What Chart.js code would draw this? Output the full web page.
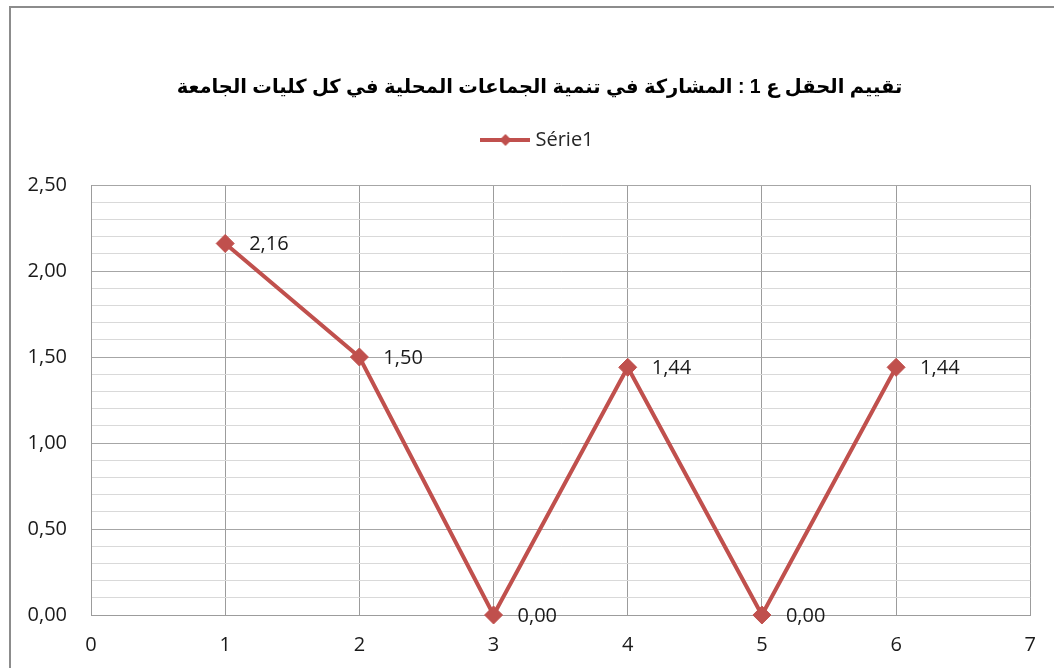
<!DOCTYPE html>
<html>
<head>
<meta charset="utf-8">
<script src="https://cdn.jsdelivr.net/npm/chart.js@4.4.1/dist/chart.umd.min.js"></script>
<style>
  html, body { margin: 0; padding: 0; background: #fff; overflow: hidden; }
  #frame { position: absolute; left: 9px; top: 6px; width: 1100px; height: 700px; border: 2px solid #8c8c8c; }
  #wrap { position: absolute; left: 0; top: 0; width: 1054px; height: 668px; }
</style>
</head>
<body>
<div id="frame"></div>
<div id="wrap"><canvas id="chart" width="1054" height="668"></canvas></div>
<script>
// Chart data
const titleText = "تقييم الحقل ع 1 : المشاركة في تنمية الجماعات المحلية في كل كليات الجامعة";
const seriesName = "Série1";
const xValues = [1, 2, 3, 4, 5, 6];
const yValues = [2.16, 1.50, 0.00, 1.44, 0.00, 1.44];

const lineColor = "#C0504D";
const tickFont = { family: "'Open Sans', sans-serif", size: 20 };

// format 2.16 -> "2,16"
function frNum(v) {
    return v.toFixed(2).replace(".", ",");
}

// Legend marker: line with diamond in the middle
const legendMark = document.createElement("canvas");
legendMark.width = 50;
legendMark.height = 16;
(function () {
    const c = legendMark.getContext("2d");
    c.strokeStyle = lineColor;
    c.lineWidth = 4;
    c.beginPath();
    c.moveTo(0, 8);
    c.lineTo(50, 8);
    c.stroke();
    c.fillStyle = lineColor;
    c.beginPath();
    c.moveTo(25, 2);
    c.lineTo(31, 8);
    c.lineTo(25, 14);
    c.lineTo(19, 8);
    c.closePath();
    c.fill();
})();

// Title and legend are centred on the whole frame, not on the canvas
const centreHeader = {
    id: "centreHeader",
    afterLayout(chart) {
        if (chart.titleBlock) chart.titleBlock.left = 46;
        if (chart.legend) chart.legend.left = 46;
    }
};

// Value labels to the right of each point
const valueLabels = {
    id: "valueLabels",
    afterDatasetsDraw(chart) {
        const ctx = chart.ctx;
        const meta = chart.getDatasetMeta(0);
        ctx.save();
        ctx.font = "20px 'Open Sans', sans-serif";
        ctx.fillStyle = "#1a1a1a";
        ctx.textAlign = "left";
        ctx.textBaseline = "middle";
        meta.data.forEach((pt, i) => {
            ctx.fillText(frNum(yValues[i]), pt.x + 24, pt.y + 1);
        });
        ctx.restore();
    }
};

const points = xValues.map((x, i) => ({ x: x, y: yValues[i] }));

new Chart(document.getElementById("chart"), {
    type: "line",
    data: {
        datasets: [{
            label: seriesName,
            data: points,
            borderColor: lineColor,
            backgroundColor: lineColor,
            borderWidth: 4,
            pointStyle: "rectRot",
            pointRadius: 9,
            pointBorderWidth: 1,
            pointBackgroundColor: lineColor,
            pointBorderColor: lineColor,
            tension: 0,
            clip: false
        }]
    },
    options: {
        responsive: false,
        animation: false,
        layout: { padding: { left: 0, right: 21, top: 0, bottom: 0 } },
        plugins: {
            title: {
                display: true,
                text: titleText,
                color: "#000",
                font: { family: "'Liberation Sans', 'DejaVu Sans', sans-serif", size: 19.5, weight: "bold", lineHeight: "24px" },
                padding: { top: 76, bottom: 0 }
            },
            subtitle: {
                // empty spacer between legend and plot
                display: true,
                text: "",
                weight: 500,
                font: { size: 10, lineHeight: 1 },
                padding: { top: 15, bottom: 0 }
            },
            legend: {
                display: true,
                position: "top",
                labels: {
                    usePointStyle: true,
                    pointStyle: legendMark,
                    pointStyleWidth: 40,
                    boxHeight: 16,
                    padding: 30,
                    color: "#262626",
                    font: tickFont
                }
            },
            tooltip: { enabled: false }
        },
        scales: {
            x: {
                type: "linear",
                min: 0,
                max: 7,
                ticks: { stepSize: 1, color: "#1a1a1a", font: tickFont, padding: 18 },
                grid: { color: "#9c9c9c", lineWidth: 1, drawTicks: false },
                border: { color: "#9c9c9c" },
                afterFit(scale) { scale.height = 53; }
            },
            y: {
                min: 0,
                max: 2.5,
                ticks: {
                    stepSize: 0.1,
                    color: "#1a1a1a",
                    font: tickFont,
                    padding: 24,
                    autoSkip: false,
                    callback: v => (Math.round(v * 10) % 5 === 0 ? frNum(v) : "")
                },
                grid: {
                    drawTicks: false,
                    color: c => (Math.round(c.tick.value * 10) % 5 === 0 ? "#a6a6a6" : "#d9d9d9"),
                    lineWidth: 1
                },
                border: { color: "#9c9c9c" },
                afterFit(scale) { scale.width = 91; }
            }
        }
    },
    plugins: [centreHeader, valueLabels]
});
</script>
</body>
</html>
